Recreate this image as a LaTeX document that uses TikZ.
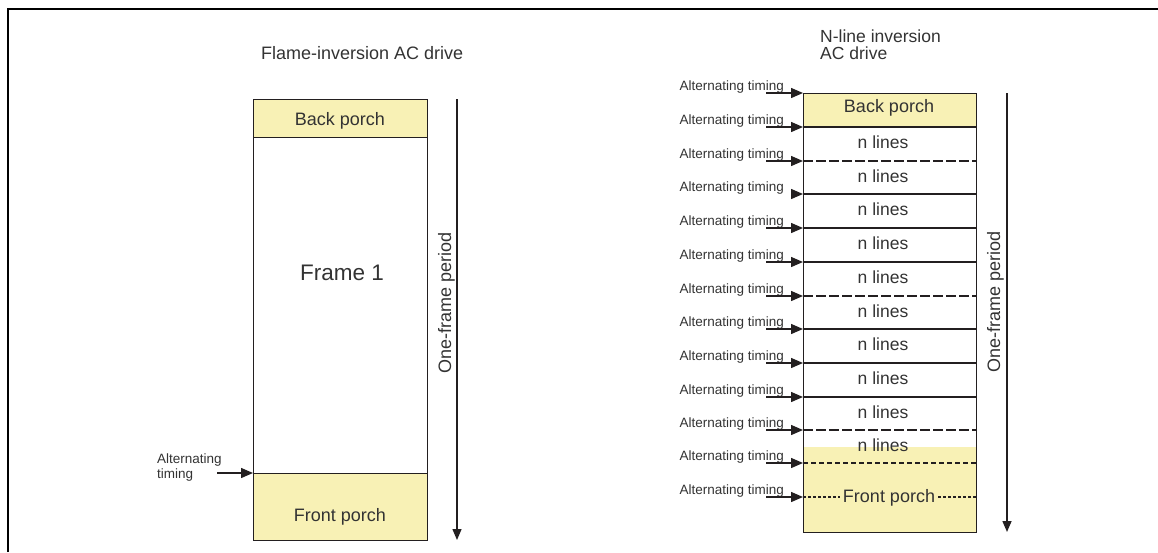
\documentclass[tikz,border=0pt]{standalone}
\usepackage{fontspec}
\setmainfont{Liberation Sans}
\usetikzlibrary{arrows.meta}
\definecolor{porch}{HTML}{F8F1B5}
\definecolor{ink}{HTML}{231F20}
\definecolor{txt}{HTML}{333333}
\begin{document}
\begin{tikzpicture}[x=1pt,y=-1pt,
  every node/.style={text=txt, inner sep=0pt},
  lab/.style={font=\fontsize{13.5}{15}\selectfont},
  big/.style={font=\fontsize{18}{20}\selectfont},
  huge/.style={font=\fontsize{22.5}{26}\selectfont},
  nl/.style={font=\fontsize{17.5}{20}\selectfont},
  cellbox/.style={draw=ink, line width=1.4pt, minimum width=174pt},
  sep/.style={draw=ink, line width=1.3pt},
  arr/.style={draw=ink, line width=1.4pt, -{Triangle[length=12pt,width=10pt]}},
  varr/.style={draw=ink, line width=1.4pt, -{Triangle[length=11pt,width=9pt]}},
  longdash/.style={dash pattern=on 10pt off 3pt},
  shortdash/.style={dash pattern=on 5pt off 3pt},
  tinydash/.style={dash pattern=on 3pt off 2pt}]
\useasboundingbox (0,0) rectangle (1158,552);
\draw[line width=2.2pt, black] (8,552) -- (8,9) -- (1158,9);

% ---------- left diagram ----------
\node[big, anchor=base west] (ltitle) at (261,59) {Flame-inversion AC drive};
\node[cellbox, fill=porch, minimum height=38pt, anchor=north west] (lbp) at (253,99) {};
\node[cellbox, minimum height=336pt, anchor=north west] (lfr) at (253,137) {};
\node[cellbox, fill=porch, minimum height=67pt, anchor=north west] (lfp) at (253,473) {};
\node[big, anchor=base] (lbpt) at (340,125) {Back porch};
\node[huge, anchor=base] (lfrt) at (342,280) {Frame 1};
\node[big, anchor=base] (lfpt) at (340,521) {Front porch};
\node[lab, anchor=base west] (lal1) at (157,463) {Alternating};
\node[lab, anchor=base west] (lal2) at (157,478) {timing};
\coordinate (lt) at (217,473);
\draw[arr] (lt) -- (lfp.north west);
\coordinate (lv0) at (457,99);
\coordinate (lv1) at (457,540);
\draw[varr] (lv0) -- (lv1);
\node[big, rotate=90, anchor=base] (lper) at (451,303) {One-frame period};

% ---------- right diagram ----------
\node[nl, anchor=base west] (rt1) at (820,42) {N-line inversion};
\node[nl, anchor=base west] (rt2) at (820,59) {AC drive};
\path[fill=porch] (803,93) rectangle (976,127);
\path[fill=porch] (803,447) rectangle (977,532);
\foreach \y/\st in {127/solid,161/longdash,194/solid,228/solid,262/solid,296/longdash,329/solid,363/solid,397/solid,430/longdash,463/shortdash,497/tinydash}{
  \draw[sep,\st] (803,\y) -- (976,\y);
}
\node[cellbox, minimum width=173pt, minimum height=439pt, anchor=north west] (rbox) at (803,93) {};
\node[big, anchor=base] (rbpt) at (889,112) {Back porch};
\foreach \t [count=\i] in {127,161,194,228,262,296,329,363,397,430}{
  \node[nl, anchor=base] (nl\i) at (883,\t+21) {n lines};
}
\node[big, anchor=base, fill=porch, inner xsep=3pt, inner ysep=1pt] (rfpt) at (889,502) {Front porch};
\foreach \y/\x [count=\i] in {93/766,127/766,161/766,194/791,228/766,262/766,296/766,329/766,363/766,397/766,430/766,463/766,497/766}{
  \node[lab, anchor=base east] (ra\i) at (784,\y-3) {Alternating timing};
  \coordinate (rs\i) at (\x,\y);
  \coordinate (re\i) at (803,\y);
  \draw[arr] (rs\i) -- (re\i);
}
\coordinate (rv0) at (1007,93);
\coordinate (rv1) at (1007,532);
\draw[varr] (rv0) -- (rv1);
\node[big, rotate=90, anchor=base] (rper) at (1000,302) {One-frame period};
\end{tikzpicture}
\end{document}
